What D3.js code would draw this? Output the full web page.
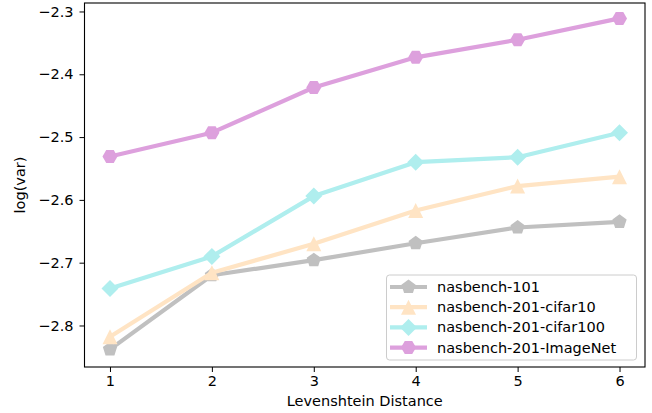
<!DOCTYPE html>
<html><head><meta charset="utf-8">
<script src="https://cdn.jsdelivr.net/npm/d3@7"></script>
<style>body{margin:0;background:#fff}svg{display:block}text{font-family:"DejaVu Sans",sans-serif}</style>
</head><body>
<svg id="c" width="652" height="413"></svg>
<script>
const distances = [1, 2, 3, 4, 5, 6];
const nb101 = [-2.838, -2.720, -2.696, -2.669, -2.644, -2.635];
const nb201c10 = [-2.818, -2.716, -2.670, -2.617, -2.578, -2.563];
const nb201c100 = [-2.741, -2.690, -2.594, -2.540, -2.532, -2.493];
const nb201img = [-2.531, -2.493, -2.421, -2.373, -2.345, -2.311];
const seriesNames = ["nasbench-101", "nasbench-201-cifar10", "nasbench-201-cifar100", "nasbench-201-ImageNet"];
const xTicks = [1, 2, 3, 4, 5, 6];
const yTicks = [-2.8, -2.7, -2.6, -2.5, -2.4, -2.3];

const series = [
  {name: seriesNames[0], values: nb101, color: "#c0c0c0", marker: "pentagon"},
  {name: seriesNames[1], values: nb201c10, color: "#ffe4c4", marker: "triangle"},
  {name: seriesNames[2], values: nb201c100, color: "#afeeee", marker: "diamond"},
  {name: seriesNames[3], values: nb201img, color: "#dda0dd", marker: "hexagon"}
];

const FS = 14.5;
const L = 84.5, R = 645, T = 3, B = 367;
const x = d3.scaleLinear().domain([0.75, 6.25]).range([L, R]);
const y = d3.scaleLinear().domain([-2.8661, -2.2865]).range([B, T]);
const svg = d3.select("#c");

function poly(n, r, rot) {
  const pts = [];
  for (let i = 0; i < n; i++) {
    const a = rot + i * 2 * Math.PI / n;
    pts.push([r * Math.cos(a), r * Math.sin(a)]);
  }
  return "M" + pts.map(p => p[0].toFixed(2) + "," + p[1].toFixed(2)).join("L") + "Z";
}
function markerPath(m) {
  if (m === "pentagon") return poly(5, 7.5, -Math.PI / 2);
  if (m === "triangle") return "M0,-7.5L7.5,7.5L-7.5,7.5Z";
  if (m === "diamond") return "M0,-8.5L8.5,0L0,8.5L-8.5,0Z";
  return poly(6, 7.5, 0);
}

const g = svg.append("g");
const line = d3.line().x((d, i) => x(distances[i])).y(d => y(d));
series.forEach(s => {
  g.append("path").attr("d", line(s.values)).attr("fill", "none")
    .attr("stroke", s.color).attr("stroke-width", 4.2).attr("stroke-linejoin", "round");
  g.selectAll(null).data(s.values).enter().append("path")
    .attr("d", markerPath(s.marker))
    .attr("transform", (d, i) => `translate(${x(distances[i])},${y(d)})`)
    .attr("fill", s.color);
});

// axes
const xa = svg.append("g").attr("transform", `translate(0,${B})`)
  .call(d3.axisBottom(x).tickValues(xTicks).tickFormat(d3.format("d")).tickSize(5).tickSizeOuter(0));
const ya = svg.append("g").attr("transform", `translate(${L},0)`)
  .call(d3.axisLeft(y).tickValues(yTicks).tickFormat(d => d3.format(".1f")(d).replace("-", "\u2212")).tickSize(5).tickSizeOuter(0));
[xa, ya].forEach(a => {
  a.select(".domain").remove();
  a.selectAll("line").attr("stroke", "#000").attr("stroke-width", 1);
  a.selectAll("text").attr("font-size", FS).attr("fill", "#000").attr("font-family", "DejaVu Sans");
});
xa.selectAll("text").attr("dy", "0.71em").attr("y", 9);
ya.selectAll("text").attr("x", -11);

svg.append("rect").attr("x", L).attr("y", T).attr("width", R - L).attr("height", B - T)
  .attr("fill", "none").attr("stroke", "#000").attr("stroke-width", 1.1);

svg.append("text").attr("x", (L + R) / 2).attr("y", 406).attr("text-anchor", "middle")
  .attr("font-size", FS).text("Levenshtein Distance");
svg.append("text").attr("transform", `translate(25,${(T + B) / 2}) rotate(-90)`).attr("text-anchor", "middle")
  .attr("font-size", FS).text("log(var)");

// legend
const lg = svg.append("g");
lg.append("rect").attr("x", 386.5).attr("y", 275).attr("width", 250).attr("height", 85).attr("rx", 3)
  .attr("fill", "#fff").attr("fill-opacity", 0.8).attr("stroke", "#ccc").attr("stroke-width", 1);
series.forEach((s, i) => {
  const yy = 287 + i * 20.2;
  lg.append("line").attr("x1", 390).attr("x2", 427).attr("y1", yy).attr("y2", yy)
    .attr("stroke", s.color).attr("stroke-width", 4.2);
  lg.append("path").attr("d", markerPath(s.marker)).attr("transform", `translate(408.5,${yy})`).attr("fill", s.color);
  lg.append("text").attr("x", 437).attr("y", yy).attr("dy", "0.35em").attr("font-size", FS).text(s.name);
});
</script>
</body></html>
